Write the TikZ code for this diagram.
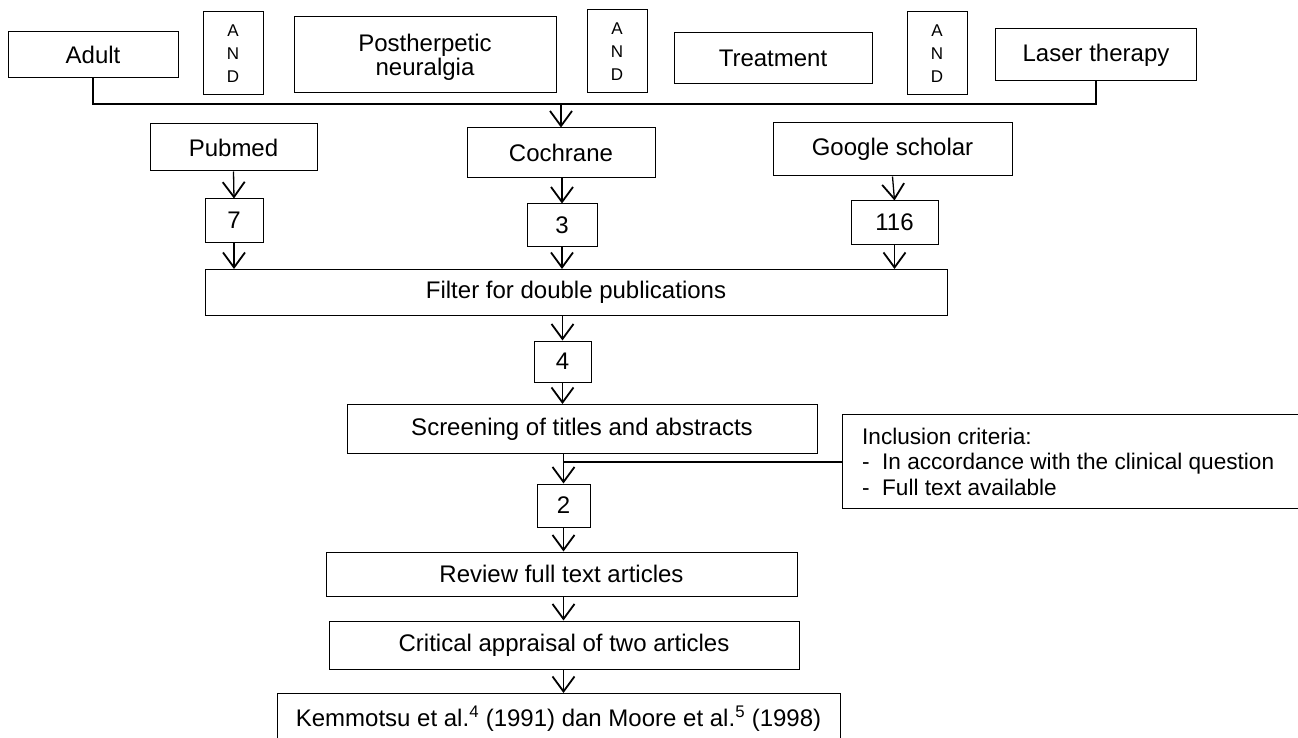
\documentclass[tikz,border=0pt]{standalone}
\usepackage{fontspec}
\setmainfont{Liberation Sans}
\usetikzlibrary{arrows.meta}
\begin{document}
\begin{tikzpicture}[x=1pt,y=-1pt,
  box/.style={draw, line width=1pt, inner sep=0pt, align=center,
    font=\fontsize{24}{25.5}\selectfont},
  andbox/.style={draw, line width=1pt, inner sep=0pt, align=center,
    minimum width=60pt, minimum height=83pt, font=\fontsize{17}{23}\selectfont},
  arr/.style={line width=1.3pt, -{Straight Barb[length=15pt,width=22pt,line width=1.8pt]}},
  ln/.style={line width=1.3pt}]
\useasboundingbox (0,0) rectangle (1298,738);
\clip (0,0) rectangle (1298,738);
% top row
\node[box, minimum width=170pt, minimum height=46pt] (adult) at (93,55) {Adult};
\node[andbox] (and1) at (233,53.5) {A\\N\\D};
\node[box, minimum width=262pt, minimum height=76pt, font=\fontsize{24}{24.5}\selectfont, text depth=-2pt] (post) at (425,55) {Postherpetic\\neuralgia};
\node[andbox] (and2) at (617,51.5) {A\\N\\D};
\node[box, minimum width=198pt, minimum height=51pt] (treat) at (773,58.5) {Treatment};
\node[andbox] (and3) at (937,53.5) {A\\N\\D};
\node[box, minimum width=201pt, minimum height=52pt] (laser) at (1096,55) {Laser therapy};
% databases
\node[box, minimum width=167pt, minimum height=47pt] (pubmed) at (233.5,147.5) {Pubmed};
\node[box, minimum width=188pt, minimum height=50pt] (coch) at (561,153) {Cochrane};
\node[box, minimum width=239pt, minimum height=53pt] (google) at (892.5,149.5) {Google scholar};
% counts
\node[box, minimum width=58pt, minimum height=43pt] (n7) at (234,220.5) {7};
\node[box, minimum width=70pt, minimum height=42pt, text depth=-4pt] (n3) at (562,225) {3};
\node[box, minimum width=87pt, minimum height=43pt] (n116) at (894.5,222.5) {116};
% flow
\node[box, minimum width=742pt, minimum height=46pt] (filter) at (576,292.5) {Filter for double publications};
\node[box, minimum width=57pt, minimum height=41pt] (n4) at (562.5,361.5) {4};
\node[box, minimum width=470pt, minimum height=49pt] (screen) at (582,429) {Screening of titles and abstracts};
\node[box, minimum width=53pt, minimum height=43pt] (n2) at (563.5,505.5) {2};
\node[box, minimum width=471pt, minimum height=44pt] (review) at (561.5,574) {Review full text articles};
\node[box, minimum width=470pt, minimum height=48pt] (crit) at (564,645) {Critical appraisal of two articles};
\node[box, minimum width=563pt, minimum height=50pt, anchor=north] (kem) at (558.5,693)
  {Kemmotsu et al.\textsuperscript{4} (1991) dan Moore et al.\textsuperscript{5} (1998)};
% inclusion criteria (box runs past the right edge)
\node[inner xsep=20pt, inner ysep=0pt, minimum height=93pt, anchor=west, align=left,
  font=\fontsize{22.6}{25.5}\selectfont] (incl) at (842,461.5)
  {Inclusion criteria:\\\makebox[20pt][l]{-}In accordance with the clinical question\\\makebox[20pt][l]{-}Full text available};
\draw[line width=1pt] (incl.north west) rectangle ([xshift=480pt]incl.south west);
% top connector
\coordinate (hub) at (561,104);
\draw[ln] (adult.south) -- (adult.south |- hub) -- (laser.south |- hub) -- (laser.south);
\draw[arr] (hub) -- (coch.north);
% arrows
\draw[arr] (pubmed.south) -- (n7.north);
\draw[arr] (n7.south) -- (n7.south |- filter.north);
\draw[arr] (coch.south -| n3.north) -- (n3.north);
\draw[arr] (n3.south) -- (n3.south |- filter.north);
\draw[arr] (google.south) -- (n116.north);
\draw[arr] (n116.south) -- (n116.south |- filter.north);
\draw[arr] (n4.north |- filter.south) -- (n4.north);
\draw[arr] (n4.south) -- (n4.south |- screen.north);
\draw[arr] (n2.north |- screen.south) -- (n2.north);
\draw[ln] (n2.north |- 0,462) -- (incl.west |- 0,462);
\draw[arr] (n2.south) -- (n2.south |- review.north);
\draw[arr] (review.south -| n2.south) -- (n2.south |- crit.north);
\draw[arr] (crit.south -| n2.south) -- (n2.south |- kem.north);
\end{tikzpicture}
\end{document}
